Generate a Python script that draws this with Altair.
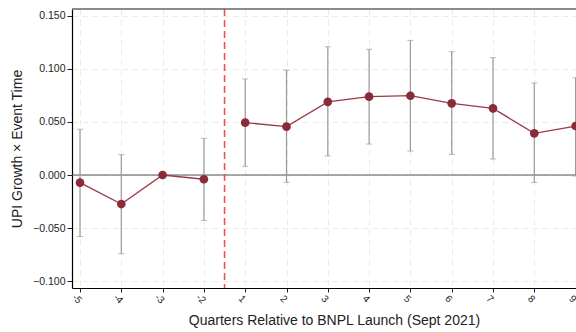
import altair as alt
import pandas as pd
import numpy as np

labels = ["-5", "-4", "-3", "-2", "1", "2", "3", "4", "5", "6", "7", "8", "9"]
period = ["pre", "pre", "pre", "pre", "post", "post", "post", "post", "post", "post", "post", "post", "post"]
coef = [-0.0072, -0.0274, 0.0, -0.0040, 0.0494, 0.0456, 0.0690, 0.0739, 0.0748, 0.0676, 0.0629, 0.0393, 0.0462]
ci_hi = [0.0431, 0.0192, None, 0.0346, 0.0906, 0.0988, 0.1210, 0.1186, 0.1270, 0.1163, 0.1107, 0.0868, 0.0918]
ci_lo = [-0.0579, -0.0742, None, -0.0428, 0.0082, -0.0069, 0.0180, 0.0292, 0.0226, 0.0195, 0.0151, -0.0070, -0.0010]
event_line = 3.5

df = pd.DataFrame({
    "i": list(range(len(labels))),
    "label": labels,
    "period": period,
    "coef": coef,
    "hi": [np.nan if v is None else v for v in ci_hi],
    "lo": [np.nan if v is None else v for v in ci_lo],
})
ci_df = df.dropna(subset=["hi", "lo"])

FONT = "Liberation Sans"
label_expr = "[" + ",".join("'%s'" % l for l in labels) + "][datum.value]"

xscale = alt.Scale(domain=[-0.194, 12.01], nice=False, zero=False)
yscale = alt.Scale(domain=[-0.1066, 0.1566], nice=False, zero=False)

xaxis = alt.Axis(
    values=list(range(len(labels))), labelExpr=label_expr, labelAngle=45,
    labelAlign="center", labelBaseline="top", labelFontSize=10, labelFont=FONT,
    labelColor="#222", labelPadding=3,
    tickSize=4, tickColor="#222", domainColor="#000", domainWidth=1.2,
    grid=True, gridColor="#ebebeb", gridDash=[6, 4], gridWidth=1,
    title="Quarters Relative to BNPL Launch (Sept 2021)", titleFont=FONT,
    titleFontSize=14, titleFontWeight="normal", titleColor="#222",
    titlePadding=8, titleX=262, titleAlign="center",
)
yaxis = alt.Axis(
    values=[-0.1, -0.05, 0.0, 0.05, 0.1, 0.15], format=".3f",
    labelFontSize=10.5, labelFont=FONT, labelColor="#222", labelPadding=2,
    tickSize=5, tickColor="#222", domainColor="#000", domainWidth=1.2,
    grid=True, gridColor="#ebebeb", gridDash=[6, 4], gridWidth=1,
    title="UPI Growth × Event Time", titleFont=FONT, titleFontSize=14,
    titleFontWeight="normal", titleColor="#222", titlePadding=8,
)

base = alt.Chart(df)

axes_layer = base.mark_point(opacity=0).encode(
    x=alt.X("i:Q", scale=xscale, axis=xaxis),
    y=alt.Y("coef:Q", scale=yscale, axis=yaxis),
)

zero_rule = alt.Chart(pd.DataFrame({"y": [0.0]})).mark_rule(color="#555", strokeWidth=1).encode(
    y=alt.Y("y:Q", scale=yscale)
)

top_rule = alt.Chart(pd.DataFrame({"y": [0.1566]})).mark_rule(color="#666", strokeWidth=1.6).encode(
    y=alt.Y("y:Q", scale=yscale)
)

event_rule = alt.Chart(pd.DataFrame({"x": [event_line]})).mark_rule(
    color="#f0504f", strokeWidth=1.6, strokeDash=[7, 4]
).encode(x=alt.X("x:Q", scale=xscale))

err_rule = alt.Chart(ci_df).mark_rule(color="#9a9a9a", strokeWidth=1.2).encode(
    x=alt.X("i:Q", scale=xscale), y=alt.Y("lo:Q", scale=yscale), y2="hi:Q"
)
cap_hi = alt.Chart(ci_df).mark_tick(color="#9a9a9a", thickness=1, size=6, orient="horizontal").encode(
    x=alt.X("i:Q", scale=xscale), y=alt.Y("hi:Q", scale=yscale)
)
cap_lo = alt.Chart(ci_df).mark_tick(color="#9a9a9a", thickness=1, size=6, orient="horizontal").encode(
    x=alt.X("i:Q", scale=xscale), y=alt.Y("lo:Q", scale=yscale)
)

line = base.mark_line(color="#9b3a47", strokeWidth=1.3).encode(
    x=alt.X("i:Q", scale=xscale), y=alt.Y("coef:Q", scale=yscale),
    detail="period:N",
)
points = base.mark_circle(color="#8a2b38", size=75, opacity=1).encode(
    x=alt.X("i:Q", scale=xscale), y=alt.Y("coef:Q", scale=yscale)
)

chart = alt.layer(
    axes_layer, zero_rule, event_rule, err_rule, cap_hi, cap_lo, line, points, top_rule
).properties(
    width=504, height=279,
    autosize=alt.AutoSizeParams(type="none"),
    padding={"left": 72, "top": 9, "right": 0, "bottom": 44},
    background="white",
).configure_view(stroke=None)

chart.save("out.html", embed_options={"renderer": "svg", "actions": False})
